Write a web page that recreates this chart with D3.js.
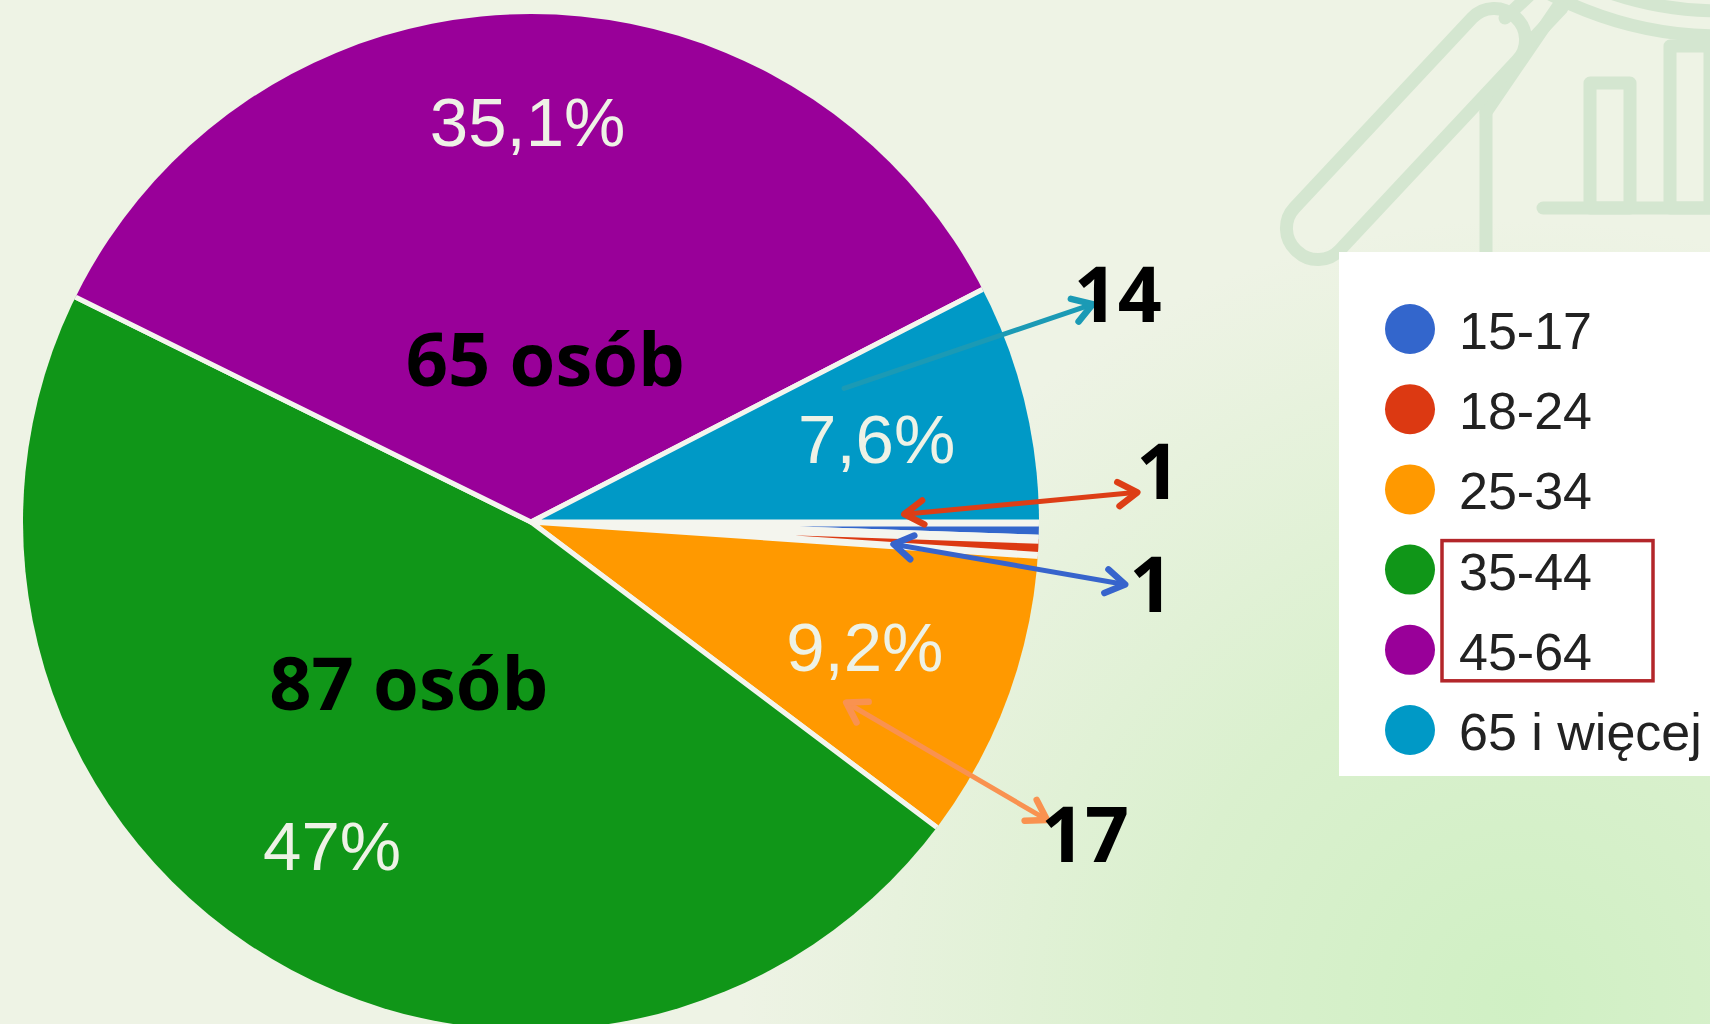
<!DOCTYPE html>
<html>
<head>
<meta charset="utf-8">
<script src="https://cdn.jsdelivr.net/npm/d3@7"></script>
<style>
  html, body { margin: 0; padding: 0; overflow: hidden; background: #eef3e5; }
  svg { display: block; }
</style>
</head>
<body>
<div id="chart-container"></div>
<script>
// age groups and number of answers
const categories = ["15-17", "18-24", "25-34", "35-44", "45-64", "65 i więcej"];
const counts = [1, 1, 17, 87, 65, 14];
const sliceColors = ["#3366cc", "#dc3912", "#ff9900", "#109618", "#990099", "#0099c6"];
// groups marked with a box in the legend and with "osób" text on the pie
const highlighted = ["35-44", "45-64"];
// groups that get an arrow with their count
const calloutGroups = ["65 i więcej", "18-24", "15-17", "25-34"];

const W = 1710, H = 1024;
const cx = 531, cy = 522, radius = 508;
const total = d3.sum(counts);

const svg = d3.select("#chart-container")
  .append("svg")
  .attr("width", W)
  .attr("height", H);

const defs = svg.append("defs");
const bg = defs.append("radialGradient")
  .attr("id", "bgGrad")
  .attr("gradientUnits", "userSpaceOnUse")
  .attr("cx", 1520).attr("cy", 1000).attr("r", 780);
bg.append("stop").attr("offset", "0%").attr("stop-color", "#d0f0c4");
bg.append("stop").attr("offset", "45%").attr("stop-color", "#daf0ce");
bg.append("stop").attr("offset", "100%").attr("stop-color", "#eef3e5");

svg.append("rect")
  .attr("width", W).attr("height", H)
  .attr("fill", "url(#bgGrad)");

// faint watermark icon, top right
const mark = svg.append("g")
  .attr("fill", "none")
  .attr("stroke", "#d4e6d0")
  .attr("stroke-width", 13)
  .attr("stroke-linecap", "round")
  .attr("stroke-linejoin", "round");

mark.append("circle").attr("cx", 1720).attr("cy", -330).attr("r", 366);
mark.append("circle").attr("cx", 1720).attr("cy", -330).attr("r", 341);
mark.append("line").attr("x1", 1486).attr("y1", 260).attr("x2", 1486).attr("y2", 112);
mark.append("line").attr("x1", 1486).attr("y1", 112).attr("x2", 1566).attr("y2", -5);
mark.append("path").attr("d", "M1505,18 L1535,-10 M1530,42 L1562,8");
mark.append("rect")
  .attr("x", -160).attr("y", -31)
  .attr("width", 320).attr("height", 62)
  .attr("rx", 30)
  .attr("transform", "translate(1406,134) rotate(-46.9)");
mark.append("rect").attr("x", 1590).attr("y", 83).attr("width", 40).attr("height", 125);
mark.append("rect").attr("x", 1670).attr("y", 46).attr("width", 40).attr("height", 162);
mark.append("line").attr("x1", 1543).attr("y1", 208).attr("x2", 1730).attr("y2", 208);

// pie
const color = d3.scaleOrdinal().domain(categories).range(sliceColors);

const pie = d3.pie()
  .sort(null)
  .value(d => d.count)
  .startAngle(Math.PI / 2)
  .endAngle(Math.PI / 2 + 2 * Math.PI);

const data = categories.map((c, i) => ({ cat: c, count: counts[i] }));
const arcs = pie(data);

// slices drawn a bit larger and clipped, so the white borders only show between slices
const arc = d3.arc().innerRadius(0).outerRadius(radius + 8);

defs.append("clipPath")
  .attr("id", "pieClip")
  .append("circle")
  .attr("r", radius);

const g = svg.append("g").attr("transform", `translate(${cx},${cy})`);

g.append("g")
  .attr("clip-path", "url(#pieClip)")
  .selectAll("path.slice")
  .data(arcs)
  .join("path")
  .attr("class", "slice")
  .attr("d", arc)
  .attr("fill", d => color(d.data.cat))
  .attr("stroke", "#f4f5ee")
  .attr("stroke-width", d => d.data.count / total < 0.02 ? 9 : 5)
  .attr("stroke-linejoin", "round");

function pctText(v) {
  let s = (v / total * 100).toFixed(1).replace(".", ",");
  if (s.endsWith(",0")) s = s.slice(0, -2);
  return s + "%";
}

const midAngle = d => (d.startAngle + d.endAngle) / 2;
const pctPos = d => {
  const a = midAngle(d), r = radius * 0.70 + 45 * Math.cos(a) ** 4;
  return [r * Math.sin(a), -r * Math.cos(a)];
};

// percentage labels inside the slices
g.selectAll("text.pct")
  .data(arcs.filter(d => d.data.count / total > 0.05))
  .join("text")
  .attr("class", "pct")
  .attr("x", d => pctPos(d)[0])
  .attr("y", d => pctPos(d)[1])
  .attr("dy", "0.36em")
  .attr("text-anchor", "middle")
  .style("font-family", "'Liberation Sans', Arial, sans-serif")
  .style("font-size", "69px")
  .style("fill", "#eef2e6")
  .text(d => pctText(d.data.count));

// "osób" labels on the two largest groups
const peoplePos = d => {
  const m = midAngle(d);
  const a = m + 5.5 * Math.PI / 180;
  const r = radius * (0.32 + 0.15 * Math.abs(Math.sin(m)));
  return [r * Math.sin(a), -r * Math.cos(a)];
};

g.selectAll("text.people")
  .data(arcs.filter(d => highlighted.includes(d.data.cat)))
  .join("text")
  .attr("class", "people")
  .attr("x", d => peoplePos(d)[0])
  .attr("y", d => peoplePos(d)[1])
  .attr("dy", "0.36em")
  .attr("text-anchor", "middle")
  .style("font-family", "'Open Sans', 'Noto Sans', sans-serif")
  .style("font-weight", "bold")
  .style("font-size", "74px")
  .style("fill", "#000")
  .text(d => `${d.data.count} osób`);

// arrows with counts for the small groups
const calloutLayout = {
  "65 i więcej": { a0: -23.1, r0: 0.67, a1: -21.2, r1: 1.186, both: false, dx: -19, dy: 18, stroke: "#1b9ab5" },
  "18-24":       { a0: -1.2,  r0: 0.735, a1: -2.8, r1: 1.195, both: true,  dx: -1,  dy: 7,  stroke: "#dd3e16" },
  "15-17":       { a0: 3.5,   r0: 0.715, a1: 6.0,  r1: 1.176, both: true,  dx: 4,   dy: 28, stroke: "#3764cc" },
  "25-34":       { a0: 29.8,  r0: 0.715, a1: 30.0, r1: 1.173, both: true,  dx: -6,  dy: 42, stroke: "#f99250" }
};

const polar = (deg, f) => [radius * f * Math.cos(deg * Math.PI / 180), radius * f * Math.sin(deg * Math.PI / 180)];

calloutGroups.forEach((cat, i) => {
  const L = calloutLayout[cat];
  const id = "head" + i;
  defs.append("marker")
    .attr("id", id)
    .attr("viewBox", "-26 -18 32 36")
    .attr("markerUnits", "userSpaceOnUse")
    .attr("markerWidth", 32).attr("markerHeight", 36)
    .attr("refX", 0).attr("refY", 0)
    .attr("orient", "auto-start-reverse")
    .append("path")
    .attr("d", "M-19,-12 L0,0 L-19,12")
    .attr("fill", "none")
    .attr("stroke", L.stroke)
    .attr("stroke-width", 6.5)
    .attr("stroke-linecap", "round")
    .attr("stroke-linejoin", "round");

  const p0 = polar(L.a0, L.r0), p1 = polar(L.a1, L.r1);
  g.append("line")
    .attr("x1", p0[0]).attr("y1", p0[1])
    .attr("x2", p1[0]).attr("y2", p1[1])
    .attr("stroke", L.stroke)
    .attr("stroke-width", 5)
    .attr("stroke-linecap", "round")
    .attr("marker-end", `url(#${id})`)
    .attr("marker-start", L.both ? `url(#${id})` : null);

  g.append("text")
    .attr("x", p1[0] + L.dx)
    .attr("y", p1[1] + L.dy)
    .style("font-family", "'Open Sans', 'Noto Sans', sans-serif")
    .style("font-weight", "bold")
    .style("font-size", "77px")
    .style("fill", "#000")
    .text(counts[categories.indexOf(cat)]);
});

// legend
const legend = svg.append("g");
legend.append("rect")
  .attr("x", 1339).attr("y", 252)
  .attr("width", W - 1339 + 10).attr("height", 524)
  .attr("fill", "#ffffff");

const ly = d3.scalePoint().domain(categories).range([329, 730]);

legend.selectAll("circle")
  .data(categories)
  .join("circle")
  .attr("cx", 1410)
  .attr("cy", d => ly(d))
  .attr("r", 25)
  .attr("fill", d => color(d));

legend.selectAll("text")
  .data(categories)
  .join("text")
  .attr("x", 1459)
  .attr("y", d => ly(d) + 20)
  .style("font-family", "'Liberation Sans', Arial, sans-serif")
  .style("font-size", "52px")
  .style("fill", "#222")
  .text(d => d);

legend.append("rect")
  .attr("x", 1442)
  .attr("y", ly(highlighted[0]) - 29)
  .attr("width", 211)
  .attr("height", ly(highlighted[1]) - ly(highlighted[0]) + 60)
  .attr("fill", "none")
  .attr("stroke", "#b3262a")
  .attr("stroke-width", 3.5);
</script>
</body>
</html>
